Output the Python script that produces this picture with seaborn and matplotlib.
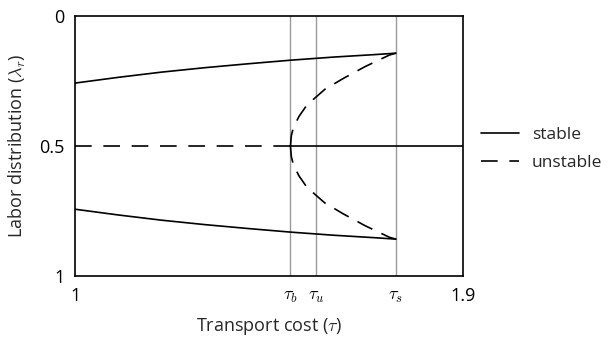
import numpy as np
import pandas as pd
import matplotlib
matplotlib.use("Agg")
import matplotlib.pyplot as plt
from matplotlib.lines import Line2D
import seaborn as sns

# values
tau_b, tau_u, tau_s = 1.5, 1.56, 1.745

stable_tau = [1.0, 1.1, 1.2, 1.3, 1.4, 1.5, 1.6, 1.7, 1.745]
stable_upper = [0.257, 0.235, 0.215, 0.198, 0.183, 0.169, 0.157, 0.147, 0.142]
stable_lower = [1 - v for v in stable_upper]

unstable_tau = [1.5, 1.502, 1.507, 1.52, 1.538, 1.56, 1.58, 1.623, 1.673, 1.73, 1.745]
unstable_upper = [0.5, 0.46, 0.427, 0.385, 0.342, 0.31, 0.281, 0.239, 0.194, 0.149, 0.142]
unstable_lower = [1 - v for v in unstable_upper]

sym_dashed_tau = [1.0, tau_b]
sym_solid_tau = [tau_b, 1.9]
sym_value = 0.5

x_ticks = [1.0, tau_b, tau_u, tau_s, 1.9]
x_labels = ["1", r"$\tau_b$", r"$\tau_u$", r"$\tau_s$", "1.9"]
y_ticks = [0, 0.5, 1]
y_labels = ["0", "0.5", "1"]

sns.set_style("white")
plt.rcParams['font.family'] = ['Open Sans', 'DejaVu Sans']
plt.rcParams['mathtext.fontset'] = 'cm'

fig = plt.figure(figsize=(6.1, 3.42), dpi=100)
ax = fig.add_axes([0.1234, 0.193, 0.635, 0.7593])

for t in [tau_b, tau_u, tau_s]:
    ax.axvline(t, color="#999999", lw=1.0, zorder=1)

dash = (0, (10, 6))
kw = dict(color="black", lw=1.2, estimator=None, ax=ax, zorder=3)
sns.lineplot(x=stable_tau, y=stable_upper, **kw)
sns.lineplot(x=stable_tau, y=stable_lower, **kw)
sns.lineplot(x=sym_solid_tau, y=[sym_value] * 2, **kw)
sns.lineplot(x=sym_dashed_tau, y=[sym_value] * 2, linestyle=(0, (10, 7)), **kw)
sns.lineplot(x=unstable_tau, y=unstable_upper, linestyle=dash, **kw)
sns.lineplot(x=unstable_tau, y=unstable_lower, linestyle=dash, **kw)

ax.set_xlim(1.0, 1.9)
ax.set_ylim(1, 0)
ax.set_xticks(x_ticks)
ax.set_xticklabels(x_labels)
ax.set_yticks(y_ticks)
ax.set_yticklabels(y_labels)
ax.tick_params(direction="in", length=4, width=1, labelsize=13, colors="black", pad=8)
for s in ax.spines.values():
    s.set_color("black")
    s.set_linewidth(1.2)

ax.set_xlabel(r"Transport cost ($\tau$)", fontsize=13, labelpad=8)
ax.set_ylabel(r"Labor distribution ($\lambda_r$)", fontsize=13, labelpad=8)

handles = [Line2D([0], [0], color="black", lw=1.2),
           Line2D([0], [0], color="black", lw=1.2, linestyle=(0, (10, 7)))]
ax.legend(handles, ["stable", "unstable"], loc="center left",
          bbox_to_anchor=(1.047, 0.49), frameon=False, fontsize=12.5,
          borderaxespad=0, borderpad=0,
          handlelength=2.2, handletextpad=0.75, labelspacing=0.7)

fig.savefig("out.png", dpi=100)
